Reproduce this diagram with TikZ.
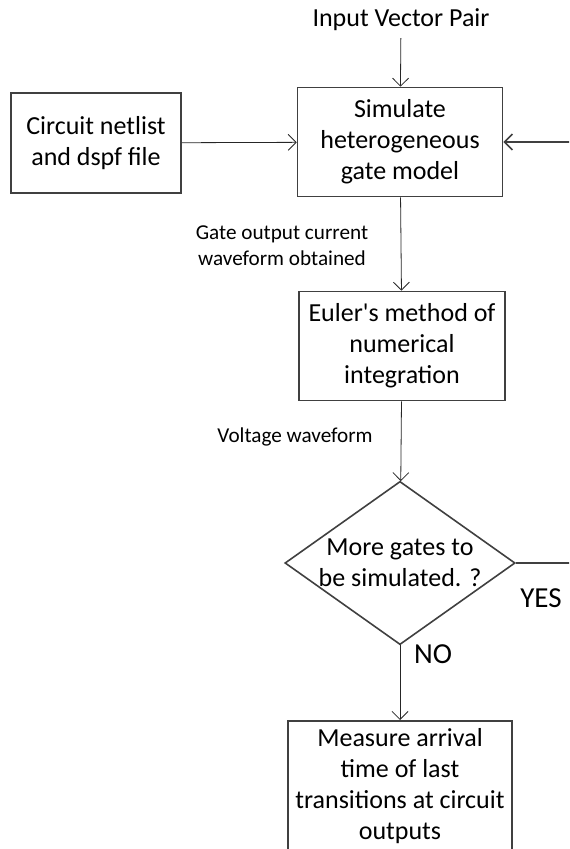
\documentclass[tikz,border=0pt]{standalone}
\usepackage{fontspec}
\setmainfont{Carlito}
\usetikzlibrary{positioning,shapes.geometric,arrows.meta}
\tikzset{
  box/.style={draw=black!75, thick, rectangle, align=center, inner sep=1pt, font=\fontsize{13}{15.5}\selectfont},
  decision/.style={draw=black!75, thick, diamond, aspect=1.41, inner sep=0pt, align=center, font=\fontsize{13}{15.5}\selectfont},
  lbl/.style={align=center, font=\fontsize{10.6}{13}\selectfont},
  arr/.style={-{Straight Barb[length=4pt,width=8pt]}, black!85},
}

\begin{document}
\begin{tikzpicture}[x=0.5pt,y=-0.5pt]
\clip (0,0) rectangle (569,849); %page

\node[font=\fontsize{13}{15}\selectfont] (input) at (401,20) {Input Vector Pair};
\node[box, minimum width=102.5pt, minimum height=54.5pt] (sim) at (400,142) {Simulate\\heterogeneous\\gate model};
\node[box, minimum width=85pt, minimum height=50pt] (net) at (96,143) {Circuit netlist\\and dspf file};
\node[box, minimum width=103pt, minimum height=54.5pt] (euler) at (402,346) {Euler\textquotesingle s method of\\numerical\\integration};
\node[decision, minimum width=112pt, minimum height=79.5pt] (dec) at (400,563) {More gates to\\be simulated. ?};
\node[box, minimum width=112pt, minimum height=65pt, anchor=north] (meas) at (400,720) {Measure arrival\\time of last\\transitions at circuit\\outputs};

\node[lbl] (gout) at (282,246) {Gate output current\\waveform obtained};
\node[lbl] (volt) at (295,437) {Voltage waveform};
\node[font=\fontsize{14.5}{16}\selectfont] (yes) at (541,598) {YES};
\node[font=\fontsize{14.5}{16}\selectfont] (no) at (433,654) {NO};

\draw[arr] (input) -- (sim); %in
\draw[arr] (net) -- (sim); %netlist
\draw[arr] (sim) -- (euler);
\draw[arr] (euler) -- (dec);
\draw[arr] (dec) -- (meas); %no
\draw[arr, black!75, thick] (dec.east) -- (600,563) |- (sim.east); %yes, loops back
\end{tikzpicture}
\end{document}
